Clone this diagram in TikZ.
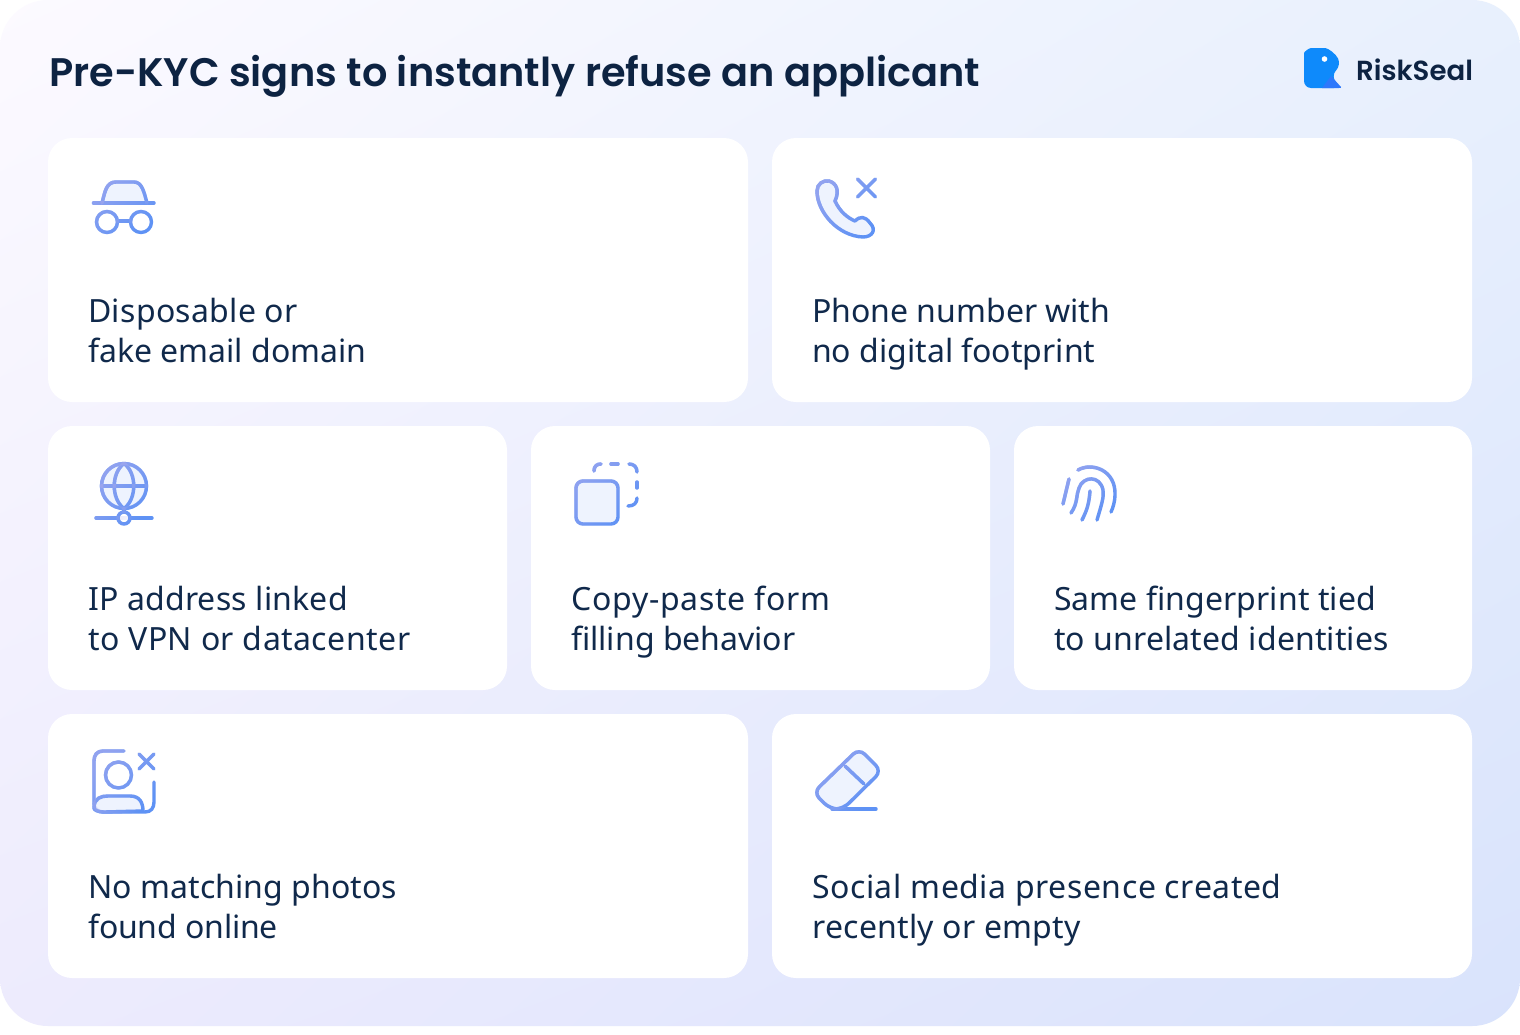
\documentclass[tikz,border=0pt]{standalone}
\usepackage{fontspec}
\setmainfont{Noto Sans}
\newfontfamily\titlefont{Poppins SemiBold}
\newcommand{\lsp}[2]{{\addfontfeature{LetterSpace=#1}#2}}
\usetikzlibrary{calc,shadings,fadings}
\definecolor{ink}{HTML}{10294B}
\definecolor{titleink}{HTML}{0D2342}
\definecolor{stroke}{HTML}{5E92F5}
\definecolor{lav}{HTML}{A3A8EE}
\definecolor{soft}{HTML}{EEF3FE}
\definecolor{logoA}{HTML}{0E8AFB}
\definecolor{logoB}{HTML}{2E78FB}
\definecolor{bgA}{HTML}{FCFAFF}
\definecolor{bgB}{HTML}{E8F0FD}
\definecolor{bgC}{HTML}{EDEBFD}
\definecolor{bgD}{HTML}{D9E3FC}
\tikzfading[name=icfade,top color=transparent!25,bottom color=transparent!100]
\tikzset{
  x=1pt,y=-1pt,
  card/.style={fill=white,rounded corners=24pt,anchor=north west,minimum height=264pt,inner sep=0pt,outer sep=0pt},
  label/.style={anchor=north west,align=left,text=ink,inner sep=0pt,font=\fontsize{32}{40}\selectfont},
  ic/.style={draw=stroke,line width=3.4pt,line cap=round,line join=round},
  icf/.style={ic,fill=soft},
  icw/.style={ic,fill=white},
}
% every icon is drawn twice: in blue, then in a lavender that fades towards the lower right
\newcommand{\iconpaint}[5]{%
  #5%
  \begin{scope}
    \tikzset{ic/.style={draw=lav,line width=3.4pt,line cap=round,line join=round},icf/.style={ic},icw/.style={ic}}
    \path[scope fading=icfade,fading angle=45] (#1,#2) rectangle (#3,#4);
    #5%
  \end{scope}}
\begin{document}
\begin{tikzpicture}
\useasboundingbox (0,0) rectangle (1520,1034);
\fill[white] (0,0) rectangle (1520,1034);
\shade[rounded corners=48pt,upper left=bgA,upper right=bgB,lower left=bgC,lower right=bgD]
  (0,0) rectangle (1520,1026);
\node[anchor=base west,inner sep=0pt,text=titleink,font=\fontsize{39.85}{50}\selectfont\titlefont] (title) at (49,86) {Pre-KYC signs to instantly refuse an applicant};
\fill[logoA,rounded corners=7pt] (1304,60) -- (1304,88) -- (1341,88) -- (1331,76) -- (1341,65) .. controls (1336,54) and (1328,48) .. (1318,48) .. controls (1309,48) and (1304,52) .. (1304,60) -- cycle;
\fill[logoB] (1331,76) -- (1341,87) .. controls (1341,88) .. (1339,88) -- (1322,88) -- cycle;
\fill[white] (1324.5,59) circle (2.8);
\node[anchor=base west,inner sep=0pt,text=titleink,font=\fontsize{27.6}{36}\selectfont\titlefont] (logo) at (1356,80) {RiskSeal};
\node[card,minimum width=700pt] (c1) at (48,138) {};
\node[card,minimum width=700pt] (c2) at (772,138) {};
\node[card,minimum width=459pt] (c3) at (48,426) {};
\node[card,minimum width=459pt] (c4) at (531,426) {};
\node[card,minimum width=458pt] (c5) at (1014,426) {};
\node[card,minimum width=700pt] (c6) at (48,714) {};
\node[card,minimum width=700pt] (c7) at (772,714) {};
\node[label] (t1) at (88,297.5) {\lsp{1}{Disposable or}\\fake email domain};
\node[label] (t2) at (812,297.5) {Phone number with\\no digital footprint};
\node[label] (t3) at (88,585.5) {\lsp{0.7}{IP address linked}\\\lsp{1.5}{to VPN or datacenter}};
\node[label] (t4) at (571,585.5) {\lsp{2.3}{Copy-paste form}\\filling behavior};
\node[label] (t5) at (1054,585.5) {\lsp{0.3}{Same fingerprint tied}\\\lsp{0.4}{to unrelated identities}};
\node[label] (t6) at (88,873.5) {\lsp{0.3}{No matching photos}\\\lsp{-0.5}{found online}};
\node[label] (t7) at (812,873.5) {\lsp{1.7}{Social media presence created}\\\lsp{0.9}{recently or empty}};
% hat
\iconpaint{92}{180}{156}{234}{%
\draw[icf] (102,203) .. controls (105,192) and (106,182) .. (116,182) -- (134,182) .. controls (142,182) and (144,192) .. (147,203);
\draw[ic] (93.5,203) -- (154,203);
\draw[ic] (107,222) circle (10.5);
\draw[ic] (141,222) circle (10.5);
\draw[ic] (117.5,221) -- (130.5,221);}
% phone
\iconpaint{815}{177}{878}{238}{%
\draw[icf] (817,191) .. controls (817,184) and (823,180) .. (829,181) .. controls (836,183) and (840,190) .. (835,201) .. controls (840,212) and (848,218) .. (855,221) .. controls (860,216) and (865,216) .. (870,223) .. controls (877,230) and (872,237) .. (863,237) .. controls (838,236) and (817,212) .. (817,191) -- cycle;
\draw[ic] (857.5,179) -- (875.5,197) (875.5,179) -- (857.5,197);}
% globe
\iconpaint{95}{462}{153}{526}{%
\draw[icf] (124,486) circle (22.5);
\draw[ic] (124,463.5) .. controls (111,473) and (111,499) .. (124,508.5) .. controls (137,499) and (137,473) .. (124,463.5) -- cycle;
\draw[ic] (101.5,486) -- (146.5,486);
\draw[ic] (96,518) -- (152,518);
\draw[ic] (124,508.5) -- (124,512);
\draw[icw] (124,518) circle (6);}
% copy
\iconpaint{573}{462}{639}{526}{%
\draw[icf,rounded corners=7pt] (576,481) rectangle (618,524);
\draw[ic] (594,471) .. controls (594,466) and (597,464) .. (601,464);
\draw[ic] (611,464) -- (618,464);
\draw[ic] (629,464) .. controls (634,464) and (637,467) .. (637,472);
\draw[ic] (637,482) -- (637,488);
\draw[ic] (637,498) .. controls (637,503) and (634,506) .. (628,506);}
% fingerprint
\iconpaint{1061}{465}{1117}{522}{%
\draw[ic] (1078,470) .. controls (1092,462) and (1116,470) .. (1115,495) .. controls (1115,501) and (1113,508) .. (1111,512);
\draw[ic] (1071,513) .. controls (1078,503) and (1076,495) .. (1079,488) .. controls (1083,476) and (1100,475) .. (1103,490) .. controls (1104,497) and (1102,503) .. (1097,520);
\draw[ic] (1082,520) .. controls (1087,510) and (1089,504) .. (1090,491);
\draw[ic] (1063,504) -- (1069,479);}
% photo
\iconpaint{92}{750}{156}{814}{%
\draw[ic] (124,751) -- (103,751) .. controls (97,751) and (94,755) .. (94,761) -- (94,803) .. controls (94,809) and (98,812) .. (104,812) -- (145,812) .. controls (151,812) and (154,808) .. (154,802) -- (154,782);
\draw[ic] (139,754) -- (154,769) (154,754) -- (139,769);
\draw[icf] (94,808) .. controls (94,798) and (101,796) .. (108,796) -- (130,796) .. controls (140,796) and (143,803) .. (143,811) -- (104,812) .. controls (98,812) and (94,810) .. (94,808) -- cycle;
\draw[ic] (118.5,775) circle (13);}
% eraser
\iconpaint{816}{750}{880}{811}{%
\draw[icf,rounded corners=8pt] (813.5,792.5) -- (859,748.5) -- (881.5,771) -- (843,809) -- (830,809) -- cycle;
\draw[ic] (845,766) -- (864,784);
\draw[ic] (832,809) -- (876,809);}
\end{tikzpicture}
\end{document}
